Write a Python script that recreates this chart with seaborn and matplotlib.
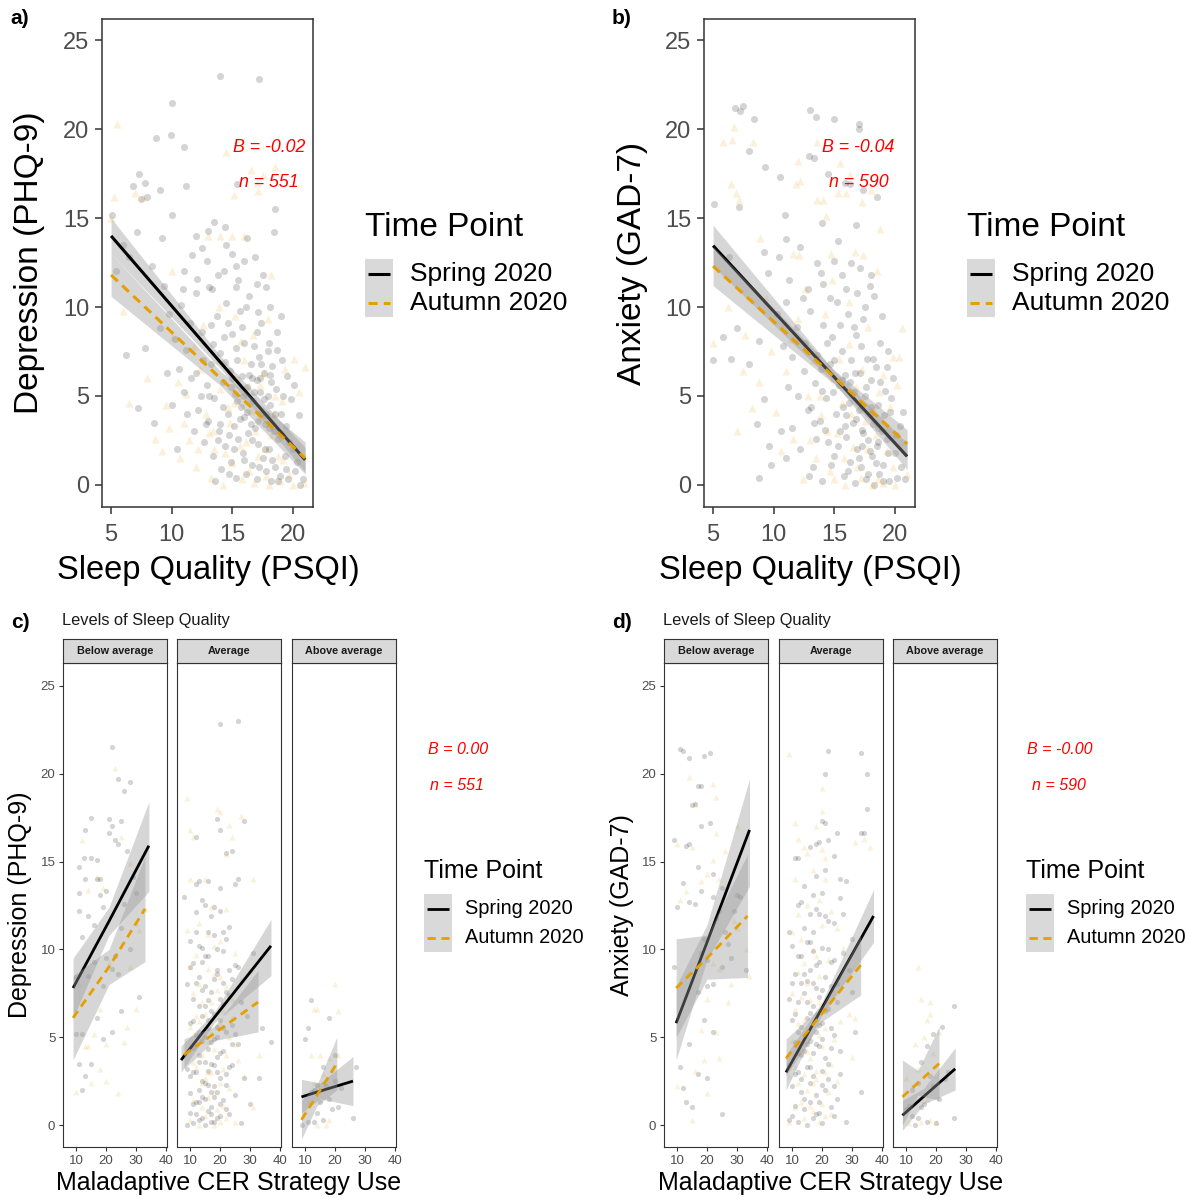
import numpy as np
import pandas as pd
import matplotlib
matplotlib.use("Agg")
import matplotlib.pyplot as plt
import seaborn as sns
from matplotlib.patches import Rectangle
from matplotlib.lines import Line2D

# ---- data ----
# top row: sleep quality (PSQI) vs score, one (x, y) pair per participant
a_spring = [(14.0,23.0),(17.2,22.8),(10.0,21.5),(9.9,19.7),(8.7,19.5),(11.0,19.0),(7.3,17.5),(7.8,17.0),
            (6.8,16.8),(7.5,16.1),(8.0,16.2),(9.0,16.6),(11.2,16.8),(15.4,16.9),(13.5,14.8),(14.4,14.5),
            (13.0,14.3),(10.0,15.2),(12.0,14.0),(14.5,13.5),(15.0,13.0),(16.2,13.9),(16.0,12.6),(18.5,15.5),
            (18.4,14.2),(12.5,13.3),(11.0,12.0),(12.9,12.6),(13.8,11.8),(14.3,12.0),(15.3,12.3),(13.1,11.1),
            (17.0,11.3),(17.8,11.1),(12.0,10.8),(15.3,11.1),
            (6.2,7.3),(7.2,4.3),(7.8,7.7),(8.5,3.5),(9.0,8.8),(9.4,11.2),(9.8,9.6),(6.0,13.5),(6.5,12.8),
            (8.4,12.3),(9.2,13.9),(5.1,15.2),(5.4,12.0),(7.1,14.2),(9.6,6.3),(10.0,4.5),
            (10.3,8.2),(10.6,6.5),(10.8,10.1),(11.0,5.2),(11.2,7.6),(11.5,9.1),(11.8,3.0),(12.0,6.3),
            (12.2,4.2),(12.5,8.6),(12.7,2.4),(12.9,5.6),(10.4,2.0),(11.3,4.0),(12.1,11.6),(11.7,12.9),
            (12.6,7.0),(10.9,11.0),
            (13.0,3.6),(13.2,6.8),(13.4,1.6),(13.5,4.9),(13.7,9.5),(13.9,3.0),(14.0,7.4),(14.1,0.9),
            (14.2,5.8),(14.4,2.2),(14.5,10.2),(14.6,4.0),(14.8,6.4),(14.9,1.3),(15.0,8.5),(15.1,3.3),
            (15.2,5.1),(15.3,0.4),(15.4,7.0),(15.5,2.6),(15.6,9.8),(15.7,4.4),(15.8,6.1),(15.9,1.8),
            (16.0,3.8),(16.0,8.0),(16.1,0.6),(16.2,5.5),(16.3,2.9),(16.4,10.6),(16.5,6.8),(16.6,1.1),
            (16.7,4.7),(16.8,7.8),(16.9,3.2),(13.3,11.0),(14.3,8.3),(15.5,11.5),(13.6,0.2),(14.7,2.8),
            (17.0,0.3),(17.0,5.9),(17.1,2.3),(17.2,7.2),(17.3,4.0),(17.4,9.1),(17.5,1.5),(17.6,6.3),
            (17.7,3.4),(17.8,0.8),(17.9,5.0),(18.0,8.0),(18.0,2.0),(18.1,4.5),(18.2,0.2),(18.3,6.7),
            (18.4,3.0),(18.5,1.0),(18.6,5.4),(18.8,2.6),(18.9,0.5),(19.0,4.0),(19.1,7.0),(19.3,1.6),
            (19.4,3.3),(19.6,0.3),(19.8,4.8),(20.0,2.0),(20.2,0.8),(20.5,3.9),(20.8,0.3),(19.5,6.1),
            (17.5,11.8),(18.1,10.0),(19.0,9.5),(16.9,12.8),(16.6,6.0),(17.3,5.2),(15.9,5.0),(17.8,3.9),
            (13.1,5.0),(13.4,7.9),(13.8,2.5),(14.2,4.4),(14.4,6.9),(14.7,0.6),(14.9,5.5),(15.1,2.0),
            (15.3,7.7),(15.6,3.7),(15.8,8.9),(16.0,1.4),(16.2,4.1),(16.4,6.2),(16.6,2.5),(16.8,5.2),
            (17.0,8.6),(17.1,3.6),(17.2,1.0),(17.4,6.8),(17.6,4.8),(17.7,2.0),(17.9,7.5),(18.0,3.2),
            (18.2,5.8),(18.3,1.4),(18.5,4.0),(18.7,7.6),(18.8,0.2),(19.0,2.9),(19.2,5.0),(19.4,0.9),
            (19.7,2.4),(20.1,5.6),(20.3,1.3),(20.6,0.0),(14.0,3.4),(15.4,4.7),(16.5,3.4),(17.3,6.0),
            (18.1,6.2),(12.4,5.0),(11.6,6.0),(12.8,3.4),(13.2,9.0),(14.6,9.1),(16.1,10.0),(17.1,9.7),
            (18.7,8.6),(15.0,6.0)]
a_autumn = [(5.5,20.3),(14.5,18.7),(16.5,17.7),(17.5,17.4),(18.5,17.9),(17.0,17.0),(17.1,16.5),(15.1,16.3),
            (5.2,16.2),(7.0,16.4),(7.6,16.2),(13.0,14.0),(14.0,14.0),(15.0,14.0),(16.0,14.0),(10.0,12.0),
            (18.2,11.8),(5.0,15.0),(6.0,9.8),(6.5,4.6),(8.6,2.6),(9.2,1.9),(9.5,4.5),(10.5,5.8),(11.0,3.5),
            (11.4,2.5),(12.0,1.0),(12.3,6.5),(12.8,4.0),(13.2,0.4),(13.5,2.0),(14.0,5.4),(14.2,0.0),
            (14.8,3.5),(15.0,1.2),(15.4,6.0),(15.8,0.3),(16.1,2.4),(16.5,4.2),(16.8,0.1),(17.1,1.6),
            (17.4,3.8),(17.8,0.5),(18.2,2.8),(18.5,5.0),(18.9,0.2),(19.2,1.4),(19.5,3.0),(20.0,0.0),
            (20.5,5.2),(20.1,7.1),(21.0,6.6),(11.8,7.8),(12.6,9.0),(13.8,7.0),(15.2,9.5),(16.7,8.4),
            (17.6,6.3),(19.3,6.5),(20.9,0.1),(10.1,8.3),(8.0,6.0),(14.6,4.4),(16.3,5.6),(13.1,2.9),
            (13.4,3.0),(14.4,1.8),(15.1,4.6),(15.6,2.2),(16.0,7.0),(16.4,0.8),(16.9,3.0),(17.3,5.6),
            (17.7,2.0),(18.0,0.0),(18.4,4.0),(18.8,1.6),(19.1,4.7),(19.7,0.6),(20.3,2.2),(12.2,2.0),
            (11.2,5.1),(10.7,1.5),(9.8,3.2),(13.9,10.0),(15.7,8.1),(17.9,9.3)]

b_spring = [(6.8,21.2),(7.2,21.0),(7.5,21.3),(8.4,20.6),(13.0,21.1),(13.5,20.7),(15.0,20.6),(17.0,20.3),
            (17.0,20.0),(8.0,18.8),(9.3,17.9),(12.9,18.5),(13.3,18.4),(14.5,17.5),(10.5,17.3),(15.9,17.0),
            (16.3,16.9),(17.4,16.6),(18.5,16.2),(5.1,15.8),(7.1,15.6),(10.9,15.2),(14.0,14.7),(15.3,13.7),
            (16.8,14.6),(11.0,13.8),(12.2,13.4),(9.2,13.1),(10.4,12.8),(13.6,12.5),(15.0,12.6),(17.1,12.2),
            (18.0,11.8),(16.4,12.5),(17.9,11.2),(6.3,12.8),(9.5,11.9),(11.3,11.5),(12.8,11.0),(14.1,11.3),
            (15.6,11.8),(16.9,10.8),(18.3,10.6),
            (5.0,7.0),(5.8,8.3),(6.5,7.1),(7.0,8.8),(8.0,6.8),(8.8,8.1),(9.2,4.8),(9.6,2.2),(8.6,3.4),
            (9.8,1.1),(8.8,0.4),(10.3,9.6),(10.8,7.8),(11.2,5.5),(11.5,3.2),(11.9,8.9),(12.2,2.0),(12.5,6.4),
            (12.8,4.2),(13.0,9.8),(13.2,1.0),(13.4,5.7),(13.6,7.3),(13.8,3.6),(14.0,0.2),(14.1,9.0),
            (14.3,4.9),(14.5,2.4),(14.6,6.8),(14.8,8.3),(15.0,1.6),(15.1,4.0),(15.2,10.3),(15.4,5.6),
            (15.5,3.0),(15.6,7.5),(15.8,0.5),(15.9,6.2),(16.0,2.7),(16.1,9.6),(16.2,4.6),(16.3,1.3),
            (16.4,7.0),(16.5,3.5),(16.6,5.2),(16.7,0.1),(16.8,8.4),(16.9,2.0),(17.0,4.2),(17.1,6.3),
            (17.2,1.0),(17.3,3.1),(17.4,9.3),(17.5,5.0),(17.6,0.3),(17.7,7.1),(17.8,2.5),(17.9,4.0),
            (18.0,5.9),(18.1,1.6),(18.2,3.4),(18.3,0.0),(18.4,6.6),(18.5,2.2),(18.6,4.5),(18.7,0.6),
            (18.8,8.0),(18.9,3.0),(19.0,1.1),(19.2,5.3),(19.3,2.6),(19.5,0.2),(19.6,4.1),(19.8,6.0),
            (20.0,1.8),(20.2,0.4),(20.4,3.3),(20.8,0.3),(13.9,11.9),(12.4,10.5),(11.0,10.3),(19.4,7.5),
            (14.9,5.2),(16.0,3.9),(17.3,2.2),(15.7,4.4),
            (13.1,4.4),(13.5,2.6),(13.9,6.5),(14.2,3.1),(14.4,8.0),(14.7,1.1),(15.0,7.0),(15.3,2.2),
            (15.6,5.9),(15.9,3.3),(16.1,0.8),(16.3,5.8),(16.6,8.9),(16.8,3.7),(17.0,1.5),(17.2,7.8),
            (17.4,2.9),(17.6,5.5),(17.8,0.6),(18.0,4.4),(18.2,7.1),(18.4,1.2),(18.6,3.2),(18.8,5.8),
            (19.0,0.2),(19.1,3.9),(19.4,1.8),(19.7,4.9),(20.1,2.8),(20.5,1.0),(12.6,8.0),(12.0,5.0),
            (11.5,7.2),(10.6,3.0),(11.0,1.5),(12.9,0.5),(14.6,10.5),(16.0,11.0),(17.5,10.0),(18.9,9.5),
            (15.5,9.0),(13.3,3.5),(14.0,5.3),(16.7,6.3),(17.9,1.9),(18.6,2.4),(19.3,6.6),(20.7,4.1)]
b_autumn = [(5.8,19.3),(6.7,20.1),(6.6,19.4),(8.3,19.3),(12.0,18.2),(13.6,19.3),(15.5,18.1),(16.3,17.4),
            (18.0,16.6),(6.5,16.9),(7.1,16.0),(6.9,16.4),(11.8,16.9),(12.2,17.1),(13.6,16.0),(14.1,16.0),
            (14.3,15.1),(15.3,16.4),(16.0,16.4),(17.3,15.9),(18.8,14.4),(8.9,13.9),(11.6,13.0),(12.1,12.9),
            (14.7,13.0),(16.7,13.1),(17.4,12.9),(6.2,10.0),(5.0,8.0),(7.5,6.4),(8.2,4.3),(7.0,3.0),(8.8,5.8),
            (9.8,7.5),(10.2,4.1),(11.0,6.4),(11.6,2.6),(12.0,9.3),(12.4,0.3),(12.8,5.0),(13.3,7.0),
            (13.5,1.5),(13.9,3.9),(14.2,9.6),(14.6,0.8),(14.9,6.0),(15.2,2.9),(15.6,4.6),(15.9,0.0),
            (16.2,7.9),(16.5,2.1),(16.8,5.5),(17.2,0.4),(17.5,3.6),(17.8,8.9),(18.1,0.0),(18.4,2.8),
            (18.7,5.2),(19.0,0.1),(19.3,1.9),(19.6,4.4),(20.0,0.0),(20.3,7.2),(20.5,2.4),(21.0,0.6),
            (20.6,8.8),(9.4,10.5),(10.8,9.0),(19.8,7.2),(7.6,8.4),
            (13.0,2.5),(13.8,5.0),(14.4,3.0),(15.0,0.3),(15.4,7.1),(15.8,1.5),(16.4,4.0),(16.9,1.0),
            (17.3,6.5),(17.7,2.0),(18.2,4.3),(18.6,0.3),(19.0,6.2),(19.4,3.2),(19.8,1.0),(20.2,5.6),
            (11.4,8.2),(10.6,1.9),(12.6,11.0),(14.8,11.5),(16.2,10.3),(18.5,12.0)]

# bottom row: maladaptive CER vs score, split by sleep-quality level
c_below_spring = [(22,21.5),(24,19.7),(28,19.5),(26,19.0),(15,17.5),(21,17.4),(22,17.0),(25,17.3),(13,16.8),
                  (12.5,15.2),(15,15.2),(17,15.1),(11,14.7),(13,14.0),(17,14.0),(18,14.0),(27,15.6),(23,16.2),
                  (24,16.0),(21,16.6),(11,13.2),(18,13.1),(20,13.3),(11,12.2),(16,11.4),(25,11.2),(12,10.7),
                  (20,9.5),(22,8.9),(19,7.9),(24,8.6),(10,8.4),(14,8.5),(17,6.1),(19,4.9),(22,5.3),(25,6.5),
                  (12,5.2),(11,3.5),(15,3.5),(13,2.8),(12,2.0),(10,5.2),(28,10.0),(31,7.3),(23,9.6),(16,9.3),
                  (26,12.6),(30,13.2),(14,11.9),(19,12.4),(29,14.1)]
c_below_autumn = [(23,20.3),(12,16.2),(25,16.4),(17,14.1),(28,14.9),(14,13.4),(19,13.5),(22,12.0),(30,11.5),
                  (31,11.1),(33,12.3),(21,9.3),(28,9.0),(18,6.6),(13,4.5),(16,5.2),(20,4.6),(24,1.8),(27,5.6),
                  (18,3.2),(15,2.4),(10,1.9),(14,4.5),(30,6.6),(20,2.5),(26,4.7),(11,8.0),(16,10.2)]
c_avg_spring = [(20,22.8),(26,23.0),(19,17.4),(28,17.3),(12,16.4),(20,16.8),(24,15.6),(22,15.5),(13,13.9),
                (12,13.7),(20,13.5),(25,13.7),(26,14.0),(16,13.9),(8,13.0),
                (10,10.5),(11,9.2),(12,11.0),(13,8.4),(14,10.1),(15,12.5),(16,9.6),(17,11.9),(18,10.8),
                (19,8.8),(20,12.2),(21,9.9),(22,7.6),(23,11.3),(24,8.3),
                (9,8.0),(11,7.2),(13,6.8),(15,7.9),(17,6.5),(19,8.6),(21,6.9),(23,7.4),(25,9.1),(27,7.0),
                (10,5.8),(12,5.1),(14,6.2),(16,5.5),(18,4.9),(20,6.0),(22,5.3),(24,5.7),(26,4.6),
                (11,4.4),(13,4.0),(15,3.6),(17,4.7),(19,3.9),(21,4.2),(23,3.3),
                (9,3.2),(10,2.8),(12,3.0),(14,2.5),(16,3.1),(18,2.2),(20,2.7),(22,2.9),(24,3.4),(28,2.7),
                (10,1.8),(11,1.2),(13,2.0),(15,1.5),(17,1.0),(19,1.9),(21,1.4),(25,1.7),(30,1.2),(33,2.7),
                (12,0.6),(14,0.4),(16,0.8),(18,0.2),(20,0.5),(22,0.9),
                (9,0.0),(11,0.1),(13,0.3),(15,0.0),(17,0.2),(19,0.4),(23,0.6),(27,0.1),(37,4.7),(34,5.5),
                (14,9.3),(16,7.1),(18,6.3),(15,5.0),(17,3.5),(19,5.6),(13,1.3),(16,2.3),(18,1.6),(14,4.8),
                (20,4.1),(21,8.1),
                (10,9.0),(11,3.0),(12,8.1),(13,5.3),(14,1.6),(15,9.6),(16,4.3),(17,7.6),(18,3.4),(19,10.0),
                (20,1.2),(21,5.5),(22,2.3),(23,8.8),(24,4.6),(12,12.1),(14,12.8),(16,11.0),(18,12.4),(13,3.6),
                (15,6.8),(17,0.6),(19,3.0),(21,11.0),(11,5.9),(10,0.7),(12,1.3),(14,7.7),(16,6.0),(18,8.3),
                (20,7.2),(22,10.6),(25,5.2),(26,9.0),(29,6.2),(31,9.8),(17,1.9),(15,2.4),(13,10.2),(19,5.0)]
c_avg_autumn = [(9,18.6),(19,18.0),(20,17.8),(23,17.1),(24,16.4),(27,17.6),(10,16.8),(11,16.4),(22,15.4),
                (15,14.0),(10,14.0),(31,14.0),(13,11.5),(17,12.4),(22,12.3),(9,11.1),(20,10.5),(25,9.8),
                (12,9.7),(16,8.9),(18,10.2),(27,8.3),(30,8.8),(11,7.5),(14,7.0),(19,7.7),(21,6.5),(24,6.1),
                (10,5.6),(13,5.9),(16,4.8),(18,4.3),(22,4.0),(26,3.7),(33,4.0),(12,3.3),(15,2.7),(17,3.0),
                (20,2.4),(23,2.1),(28,2.8),(11,1.4),(14,1.0),(16,1.6),(19,0.9),(21,1.1),(25,0.2),(10,0.3),
                (13,0.0),(18,0.0),(22,0.4),(31,1.0),(15,6.3),(17,5.3),(20,8.4),(12,4.7),(24,7.2),
                (10,9.0),(11,3.6),(13,8.0),(14,4.0),(15,0.5),(16,10.9),(17,7.0),(18,1.9),(19,5.6),(20,0.2),
                (21,3.2),(22,7.9),(23,5.0),(12,6.2),(14,2.4),(16,3.0),(18,8.6),(20,5.8),(25,4.6),(28,6.5)]
c_above_spring = [(12,7.1),(11,5.5),(10,4.9),(18,6.1),(20,4.0),(16,3.3),(21,1.0),(9,0.0),(13,0.2),(19,0.9),
                  (12,1.9),(14,2.3),(17,2.2),(15,1.3),(11,0.2),(26,0.4),(27,3.3),(22,2.1),(16,0.3),(20,2.5),
                  (13,2.0),(18,1.5),(14,0.7)]
c_above_autumn = [(13,6.6),(14,6.6),(20,8.0),(21,6.5),(12,4.0),(15,4.0),(18,3.8),(21,4.0),(14,0.0),(17,0.0),
                  (18,0.3),(10,0.8),(15,2.0),(16,2.9),(19,3.2),(11,1.3),(13,2.4)]

d_below_spring = [(11,21.4),(12,21.3),(14,20.9),(19,21.0),(21,21.2),(17,19.3),(18,19.3),(15,18.2),(16,18.3),
                  (21,17.2),(18,17.0),(9,16.2),(13,15.9),(14,16.0),(17,14.7),(12,13.8),(18,13.3),(22,14.3),
                  (25,13.5),(10,12.4),(14,12.7),(16,12.6),(22,13.0),(24,12.2),(29,12.2),(30,13.1),(19,10.6),
                  (23,11.8),(27,10.3),(18,9.8),(20,9.4),(25,9.0),(28,9.5),(17,7.6),(20,7.9),(22,8.0),(19,6.0),
                  (22,5.3),(14,4.6),(11,3.3),(12,2.1),(13,1.3),(15,1.0),(17,2.9),(20,2.7),(25,0.6),(9,9.0),
                  (26,11.0),(31,13.0),(33,8.8)]
d_below_autumn = [(14,19.8),(16,18.3),(22,19.4),(23,18.7),(10,16.0),(15,15.8),(23,16.6),(30,17.0),(22,15.1),
                  (26,15.6),(13,13.3),(18,13.9),(20,14.3),(24,14.0),(11,12.8),(29,11.6),(30,11.2),(33,10.0),
                  (22,9.2),(24,8.9),(28,8.0),(34,8.5),(20,7.2),(18,5.4),(23,5.3),(19,3.7),(16,3.1),(20,1.8),
                  (15,0.3),(10,2.2),(24,3.8),(27,7.0)]
d_avg_spring = [(22,21.3),(33,21.2),(21,20.0),(35,20.0),(35,18.0),(20,17.3),(21,17.2),(33,16.6),(34,16.6),
                (25,16.6),(11,15.2),(12,15.2),(16,15.8),(18,16.0),(19,16.1),(22,16.2),(24,15.3),(26,14.0),
                (21,14.5),(28,13.9),(18,14.2),(17,13.1),(20,13.2),(26,12.9),(13,12.7),(16,12.0),(19,12.0),
                (22,11.6),(9,11.0),(14,11.2),(24,11.5),
                (10,10.2),(12,9.6),(15,10.4),(17,9.9),(20,10.1),(23,9.3),(27,9.8),(11,8.6),(13,8.1),(16,8.8),
                (18,7.8),(21,8.4),(25,8.0),(9,7.2),(12,7.0),(14,7.5),(17,6.8),(19,7.3),(22,6.6),(30,7.6),
                (10,6.0),(13,5.6),(15,6.1),(18,5.3),(20,5.8),(24,5.1),(11,4.7),(14,4.2),(16,4.8),(17,4.1),
                (19,4.5),(21,3.8),(23,4.4),(31,5.3),
                (9,3.4),(12,3.0),(15,3.3),(17,2.8),(20,3.1),(22,2.6),(26,2.9),(10,2.2),(13,1.9),(16,2.4),
                (18,1.7),(21,2.0),(25,1.5),(33,1.9),
                (11,1.1),(14,0.9),(16,1.3),(19,0.7),(23,1.0),(9,0.3),(12,0.2),(15,0.0),(17,0.4),(20,0.1),
                (24,0.5),(28,0.2),(13,4.0),(15,8.2),(18,9.1),(19,1.3),
                (10,8.1),(11,2.9),(12,5.3),(13,9.6),(14,1.5),(15,7.0),(16,3.3),(17,11.0),(18,4.6),(19,9.3),
                (20,2.3),(21,6.5),(22,10.0),(23,5.5),(24,2.2),(25,7.0),(26,4.2),(27,12.0),(29,8.8),(30,10.6),
                (12,12.5),(14,13.6),(16,6.4),(18,0.6),(20,7.7),(11,6.3),(13,2.6),(15,4.6),(17,8.1),(19,5.7),
                (21,11.9),(23,7.9),(10,0.5),(12,4.1),(14,8.6),(16,10.4),(18,12.3),(20,4.9),(22,3.5),(24,9.4)]
d_avg_autumn = [(9,21.1),(20,19.2),(20,17.9),(11,17.2),(18,17.0),(12,16.3),(14,15.8),(15,15.5),(20,15.7),
                (21,15.2),(31,16.1),(34,16.3),(36,15.8),(11,14.0),(17,14.5),(21,14.0),(15,12.5),(19,12.8),
                (23,12.2),(25,11.2),(10,11.0),(13,10.6),(17,10.0),(22,9.4),(27,10.1),(12,8.7),(15,8.1),
                (19,8.5),(24,7.5),(29,6.3),(11,6.6),(14,6.0),(18,6.4),(21,5.5),(26,5.9),(31,6.1),(10,4.8),
                (13,4.3),(16,3.8),(20,4.5),(23,3.5),(30,3.9),(9,2.8),(12,2.4),(15,2.0),(18,2.6),(22,1.9),
                (25,2.5),(11,1.0),(14,0.4),(17,0.8),(19,0.2),(21,0.5),(9,0.2),(16,5.0),(18,3.1),(13,7.3),
                (20,1.2),
                (10,7.5),(11,3.3),(12,5.8),(13,1.3),(14,9.2),(15,4.2),(16,7.1),(17,2.4),(18,9.6),(19,5.1),
                (20,11.4),(21,3.0),(22,6.9),(23,0.6),(24,4.9),(26,8.4),(12,12.0),(14,2.9),(16,1.1),(19,7.0)]
d_above_spring = [(19,5.2),(17,4.5),(22,5.6),(26,6.8),(15,3.6),(18,2.8),(12,2.0),(11,1.1),(13,0.0),(14,0.4),
                  (17,0.2),(20,0.1),(21,1.5),(23,2.6),(26,0.4),(16,1.2),(12,0.5),(15,1.0),(19,2.2),(24,3.0),
                  (10,0.9),(14,2.4)]
d_above_autumn = [(14,9.0),(15,7.2),(18,7.0),(17,6.0),(18,6.3),(16,5.0),(21,5.3),(13,4.6),(19,4.1),(10,2.7),
                  (12,2.2),(15,0.2),(18,0.3),(20,0.2),(11,0.1),(17,1.5),(14,3.2)]

# fitted lines with 95% bands: x = [start, middle, end]; fit / lower / upper at those x
a_spring_fit = {"x": [5, 14, 21], "y": [14.0, 6.9, 1.4], "lo": [13.0, 6.55, 0.7], "hi": [15.0, 7.25, 2.1]}
a_autumn_fit = {"x": [5, 14, 21], "y": [11.8, 6.0, 1.5], "lo": [10.6, 5.6, 0.6], "hi": [13.0, 6.4, 2.4]}
b_spring_fit = {"x": [5, 15, 21], "y": [13.45, 6.05, 1.6], "lo": [12.3, 5.7, 0.85], "hi": [14.6, 6.4, 2.35]}
b_autumn_fit = {"x": [5, 15, 21], "y": [12.3, 6.05, 2.3], "lo": [11.2, 5.65, 1.5], "hi": [13.4, 6.45, 3.1]}

c_spring_fits = [{"x": [9, 21, 34.3], "y": [7.8, 11.6, 15.9], "lo": [6.1, 10.8, 13.3], "hi": [9.5, 12.4, 18.4]},
                 {"x": [7, 18, 37], "y": [3.7, 6.1, 10.2], "lo": [3.0, 5.8, 8.5], "hi": [4.5, 6.4, 11.7]},
                 {"x": [8.8, 15, 26], "y": [1.6, 1.93, 2.5], "lo": [0.7, 1.5, 1.1], "hi": [2.6, 2.4, 3.9]}]
c_autumn_fits = [{"x": [9, 21, 33], "y": [6.1, 9.0, 12.3], "lo": [3.7, 8.0, 9.3], "hi": [8.5, 10.0, 15.3]},
                 {"x": [8, 18, 32.7], "y": [4.0, 5.2, 7.0], "lo": [3.2, 4.8, 5.3], "hi": [4.9, 5.6, 8.8]},
                 {"x": [8.8, 14, 20.6], "y": [0.3, 1.7, 3.5], "lo": [-0.8, 1.1, 2.0], "hi": [1.4, 2.3, 5.0]}]
d_spring_fits = [{"x": [9.7, 20, 34.2], "y": [5.8, 10.4, 16.8], "lo": [3.7, 9.4, 13.6], "hi": [7.9, 11.4, 19.7]},
                 {"x": [8, 20, 37.2], "y": [3.0, 6.66, 11.9], "lo": [2.0, 6.3, 10.4], "hi": [4.0, 7.0, 13.4]},
                 {"x": [8.8, 16, 26.4], "y": [0.55, 1.64, 3.2], "lo": [-0.3, 1.2, 2.0], "hi": [1.4, 2.1, 4.4]}]
d_autumn_fits = [{"x": [9.7, 20, 33.5], "y": [7.8, 9.5, 11.9], "lo": [5.0, 8.3, 8.4], "hi": [10.6, 10.8, 15.4]},
                 {"x": [8, 20, 32.9], "y": [3.8, 6.35, 9.1], "lo": [2.8, 5.9, 7.4], "hi": [4.9, 6.8, 10.8]},
                 {"x": [8.8, 14, 21], "y": [1.6, 2.4, 3.5], "lo": [0.0, 1.7, 1.4], "hi": [3.7, 3.1, 5.6]}]

levels = ["Below average", "Average", "Above average"]
time_points = ["Spring 2020", "Autumn 2020"]
top_ticks = [0, 5, 10, 15, 20, 25]
psqi_ticks = [5, 10, 15, 20]
cer_ticks = [10, 20, 30, 40]

# ---- style ----
sns.set_theme(style="white")
plt.rcParams['font.family'] = ['Liberation Sans', 'DejaVu Sans']
plt.rcParams['text.color'] = 'black'

W, H = 1190, 1198
SPRING = "#000000"
AUTUMN = "#E69F00"
BAND = "#999999"
TXT = "#4D4D4D"


def box(l, t, r, b):
    return [l / W, 1 - b / H, (r - l) / W, (b - t) / H]


def fx(px):
    return px / W


def fy(py):
    return 1 - py / H


def draw_points(ax, spring, autumn, size):
    sp = pd.DataFrame(spring, columns=["x", "y"])
    au = pd.DataFrame(autumn, columns=["x", "y"])
    sns.scatterplot(data=sp, x="x", y="y", color=SPRING, alpha=0.17, s=size, marker="o",
                    linewidth=0, ax=ax, legend=False, zorder=2)
    sns.scatterplot(data=au, x="x", y="y", color=AUTUMN, alpha=0.15, s=size * 1.3, marker="^",
                    linewidth=0, ax=ax, legend=False, zorder=2)


def draw_fit(ax, fit, color, dashed, lw, z):
    ax.fill_between(fit["x"], fit["lo"], fit["hi"], color=BAND, alpha=0.4, lw=0, zorder=z)
    line, = ax.plot(fit["x"], fit["y"], color=color, lw=lw, zorder=z + 1, solid_capstyle="butt")
    if dashed:
        line.set_dashes((3, 2))


def style_axes(ax, xlim, ylim, xticks, fs, tlen, spine_lw, xpad, ypad, show_y=True):
    ax.set_xlim(xlim)
    ax.set_ylim(ylim)
    ax.set_xticks(xticks)
    ax.set_yticks(top_ticks)
    ax.set_xlabel("")
    ax.set_ylabel("")
    ax.tick_params(axis="both", which="both", length=tlen, width=spine_lw, color="#333333",
                   labelsize=fs, labelcolor=TXT, bottom=True, left=True)
    ax.tick_params(axis="x", pad=xpad)
    ax.tick_params(axis="y", pad=ypad)
    if not show_y:
        ax.tick_params(axis="y", left=False, labelleft=False)
    for s in ax.spines.values():
        s.set_color("#333333")
        s.set_linewidth(spine_lw)
    ax.set_facecolor("white")


def draw_legend(x, title_y, key_top, text_x, title_fs, label_fs, lw):
    kw, kh = 28, 29
    fig.text(fx(x), fy(title_y), "Time Point", fontsize=title_fs, va="center", ha="left", color="black")
    fig.add_artist(Rectangle((fx(x), fy(key_top + 2 * kh)), kw / W, 2 * kh / H,
                             transform=fig.transFigure, facecolor="#D9D9D9", lw=0))
    for i, (lab, col) in enumerate(zip(time_points, [SPRING, AUTUMN])):
        yc = key_top + kh * (i + 0.5)
        ln = Line2D([fx(x + 3), fx(x + kw - 3)], [fy(yc), fy(yc)], color=col, lw=lw,
                    transform=fig.transFigure, solid_capstyle="butt")
        if i == 1:
            ln.set_dashes((3, 2))
        fig.add_artist(ln)
        fig.text(fx(text_x), fy(yc), lab, fontsize=label_fs, va="center", ha="left", color="black")


fig = plt.figure(figsize=(W / 100, H / 100), dpi=100)
fig.patch.set_facecolor("white")

TOP_X = (4.25, 21.65)
TOP_Y = (-1.25, 26.2)
BOT_X = (5.65, 40.35)
BOT_Y = (-1.25, 26.3)

# ---- top row ----
top_panels = [
    (102, a_spring, a_autumn, a_spring_fit, a_autumn_fit, "a)", "Depression (PHQ-9)", "B = -0.02", "n = 551", 18.0),
    (704, b_spring, b_autumn, b_spring_fit, b_autumn_fit, "b)", "Anxiety (GAD-7)", "B = -0.04", "n = 590", 17.0),
]
for left, sp, au, fs_, fa_, tag, ylab, btxt, ntxt, bx in top_panels:
    ax = fig.add_axes(box(left, 19, left + 211, 507))
    draw_points(ax, sp, au, 26)
    draw_fit(ax, fs_, SPRING, False, 2.2, 3)
    draw_fit(ax, fa_, AUTUMN, True, 2.2, 5)
    style_axes(ax, TOP_X, TOP_Y, psqi_ticks, 17, 5, 1.1, 7, 4)
    ax.text(bx, 19.0, btxt, color="#FF0000", style="italic", fontsize=12.8, ha="center", va="center")
    ax.text(bx, 17.0, ntxt, color="#FF0000", style="italic", fontsize=12.8, ha="center", va="center")
    off = left - 102
    fig.text(fx(off + 20), fy(18), tag, fontsize=15, fontweight="bold", ha="center", va="center")
    fig.text(fx(off + 30), fy(263), ylab, fontsize=24, rotation=90, ha="center", va="center")
    fig.text(fx(off + 208), fy(570), "Sleep Quality (PSQI)", fontsize=23.5, ha="center", va="center")
    draw_legend(off + 365, 228, 259, off + 410, 24, 19, 2.2)

# ---- bottom row ----
bottom_panels = [
    (0, [c_below_spring, c_avg_spring, c_above_spring], [c_below_autumn, c_avg_autumn, c_above_autumn],
     c_spring_fits, c_autumn_fits, "c)", "Depression (PHQ-9)", "B = 0.00", "n = 551", [63, 177, 292]),
    (602, [d_below_spring, d_avg_spring, d_above_spring], [d_below_autumn, d_avg_autumn, d_above_autumn],
     d_spring_fits, d_autumn_fits, "d)", "Anxiety (GAD-7)", "B = -0.00", "n = 590", [664, 779, 893]),
]
for off, sps, aus, sfits, afits, tag, ylab, btxt, ntxt, lefts in bottom_panels:
    for i, lv in enumerate(levels):
        l = lefts[i]
        ax = fig.add_axes(box(l, 663, l + 104, 1147))
        draw_points(ax, sps[i], aus[i], 14)
        draw_fit(ax, sfits[i], SPRING, False, 2.0, 3)
        draw_fit(ax, afits[i], AUTUMN, True, 2.0, 5)
        style_axes(ax, BOT_X, BOT_Y, cer_ticks, 9.5, 3, 0.8, 2.5, 2.5, show_y=(i == 0))
        sax = fig.add_axes(box(l, 639, l + 104, 663))
        sax.set_facecolor("#D9D9D9")
        sax.set_xticks([])
        sax.set_yticks([])
        for s in sax.spines.values():
            s.set_color("#333333")
            s.set_linewidth(0.8)
        sax.text(0.5, 0.5, lv, transform=sax.transAxes, ha="center", va="center",
                 fontsize=7.8, fontweight="bold", color="#1A1A1A")
    fig.text(fx(off + 20), fy(622), tag, fontsize=15, fontweight="bold", ha="center", va="center")
    fig.text(fx(lefts[0] - 1), fy(620), "Levels of Sleep Quality", fontsize=11.8, ha="left", va="center",
             color="#1A1A1A")
    fig.text(fx(off + 20), fy(905), ylab, fontsize=18, rotation=90, ha="center", va="center")
    fig.text(fx(off + 229), fy(1183), "Maladaptive CER Strategy Use", fontsize=18, ha="center", va="center")
    fig.text(fx(off + 458), fy(749), btxt, color="#FF0000", style="italic", fontsize=11.5, ha="center", va="center")
    fig.text(fx(off + 457), fy(785), ntxt, color="#FF0000", style="italic", fontsize=11.5, ha="center", va="center")
    draw_legend(off + 424, 871, 894, off + 465, 18, 14.4, 2.0)

fig.savefig("out.png", dpi=100, facecolor="white")
